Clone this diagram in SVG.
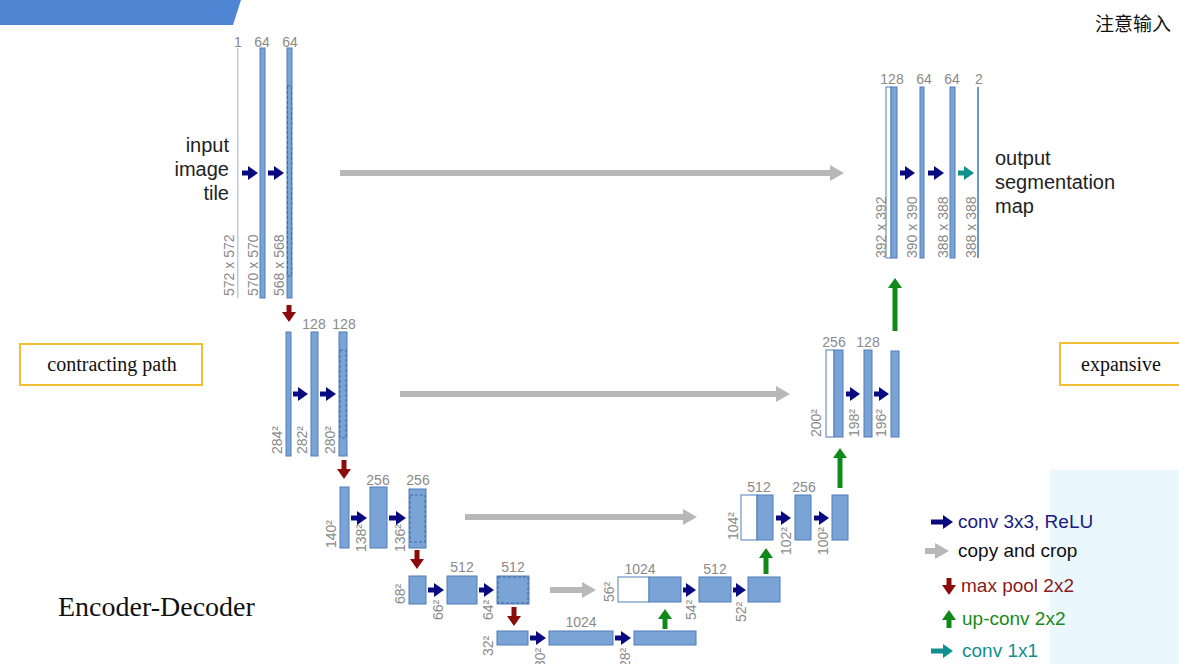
<svg xmlns="http://www.w3.org/2000/svg" width="1179" height="664" viewBox="0 0 1179 664">
<defs>
<style>
.b{fill:#7aa3d6;stroke:#4f7cb8;stroke-width:1}
.w{fill:#fff;stroke:#4f7cb8;stroke-width:1}
.d{fill:none;stroke:#3d68a8;stroke-width:1;stroke-dasharray:3,2}
.t{font-family:"Liberation Sans",Arial,sans-serif;font-size:14px;fill:#8a8a8a}
.tm{text-anchor:middle}
.big{font-family:"Liberation Sans",Arial,sans-serif;font-size:20px;fill:#222}
.ser{font-family:"Liberation Serif","Times New Roman",serif;fill:#111}
.cv{stroke:#0a0a80;stroke-width:5;marker-end:url(#mc)}
.cp{stroke:#b8b8b8;stroke-width:6;marker-end:url(#mg)}
.mp{stroke:#8b0a0a;stroke-width:5;marker-end:url(#mr)}
.up{stroke:#0f8a1a;stroke-width:5;marker-end:url(#mu)}
.c1{stroke:#119090;stroke-width:5;marker-end:url(#mt)}
.lg{font-family:"Liberation Sans",Arial,sans-serif;font-size:19px}
</style>
<marker id="mc" markerUnits="userSpaceOnUse" markerWidth="12" markerHeight="14" refX="2" refY="7" orient="auto"><path d="M0,0L10,7L0,14Z" fill="#0a0a80"/></marker>
<marker id="mg" markerUnits="userSpaceOnUse" markerWidth="16" markerHeight="16" refX="2" refY="8" orient="auto"><path d="M0,0L14,8L0,16Z" fill="#b8b8b8"/></marker>
<marker id="mr" markerUnits="userSpaceOnUse" markerWidth="12" markerHeight="14" refX="2" refY="7" orient="auto"><path d="M0,0L10,7L0,14Z" fill="#8b0a0a"/></marker>
<marker id="mu" markerUnits="userSpaceOnUse" markerWidth="12" markerHeight="14" refX="2" refY="7" orient="auto"><path d="M0,0L10,7L0,14Z" fill="#0f8a1a"/></marker>
<marker id="mt" markerUnits="userSpaceOnUse" markerWidth="12" markerHeight="14" refX="2" refY="7" orient="auto"><path d="M0,0L10,7L0,14Z" fill="#119090"/></marker>
</defs>
<rect width="1179" height="664" fill="#fff"/>
<path d="M1050,470 L1179,470 L1179,664 L1050,664 Z" fill="#eaf7fc"/>
<path d="M0,0 L241,0 L233,25 L0,25 Z" fill="#4f86d4"/>
<text x="1095" y="31" font-family="'Noto Sans CJK SC',sans-serif" font-size="19" fill="#111">注意输入</text>

<g id="level1">
<rect x="237" y="48" width="1.5" height="250" fill="#b9cbe6"/>
<rect class="b" x="260" y="48" width="5" height="250"/>
<rect class="b" x="287" y="48" width="5" height="250"/>
<rect class="d" x="287.5" y="86" width="4" height="190"/>
<text class="t tm" x="238" y="47">1</text><text class="t tm" x="262" y="47">64</text><text class="t tm" x="290" y="47">64</text>
<text class="t" transform="translate(234,296) rotate(-90)">572 x 572</text>
<text class="t" transform="translate(258,296) rotate(-90)">570 x 570</text>
<text class="t" transform="translate(284,296) rotate(-90)">568 x 568</text>
<text class="big" x="229" y="152" text-anchor="end">input</text>
<text class="big" x="229" y="176" text-anchor="end">image</text>
<text class="big" x="229" y="200" text-anchor="end">tile</text>
</g>
<g id="level2">
<rect class="b" x="286" y="332" width="5" height="124"/>
<rect class="b" x="311" y="332" width="7" height="124"/>
<rect class="b" x="339" y="332" width="8" height="124"/>
<rect class="d" x="340" y="350" width="6" height="88"/>
<text class="t tm" x="314" y="329">128</text><text class="t tm" x="344" y="329">128</text>
<text class="t" transform="translate(282,454) rotate(-90)">284²</text>
<text class="t" transform="translate(307,454) rotate(-90)">282²</text>
<text class="t" transform="translate(335,454) rotate(-90)">280²</text>
</g>
<g id="level3">
<rect class="b" x="340" y="487" width="9" height="61"/>
<rect class="b" x="370" y="487" width="17" height="61"/>
<rect class="b" x="409" y="489" width="17" height="59"/>
<rect class="d" x="410" y="495" width="15" height="47"/>
<text class="t tm" x="378" y="485">256</text><text class="t tm" x="418" y="485">256</text>
<text class="t" transform="translate(336,548) rotate(-90)">140²</text>
<text class="t" transform="translate(366,552) rotate(-90)">138²</text>
<text class="t" transform="translate(405,552) rotate(-90)">136²</text>
</g>
<g id="level4">
<rect class="b" x="409" y="576" width="17" height="28"/>
<rect class="b" x="447" y="576" width="30" height="28"/>
<rect class="b" x="497" y="576" width="32" height="28"/>
<rect class="d" x="498" y="577" width="30" height="26"/>
<text class="t tm" x="462" y="572">512</text><text class="t tm" x="513" y="572">512</text>
<text class="t" transform="translate(405,604) rotate(-90)">68²</text>
<text class="t" transform="translate(443,620) rotate(-90)">66²</text>
<text class="t" transform="translate(493,620) rotate(-90)">64²</text>
</g>
<g id="level5">
<rect class="b" x="497" y="631" width="31" height="14"/>
<rect class="b" x="549" y="631" width="64" height="14"/>
<rect class="b" x="634" y="631" width="62" height="14"/>
<text class="t tm" x="581" y="627">1024</text>
<text class="t" transform="translate(493,656) rotate(-90)">32²</text>
<text class="t" transform="translate(545,668) rotate(-90)">30²</text>
<text class="t" transform="translate(630,668) rotate(-90)">28²</text>
</g>
<g id="dec4">
<rect class="w" x="618" y="577" width="31" height="25"/>
<rect class="b" x="649" y="577" width="32" height="25"/>
<rect class="b" x="699" y="577" width="32" height="25"/>
<rect class="b" x="748" y="577" width="32" height="25"/>
<text class="t tm" x="640" y="574">1024</text><text class="t tm" x="715" y="574">512</text>
<text class="t" transform="translate(614,602) rotate(-90)">56²</text>
<text class="t" transform="translate(696,620) rotate(-90)">54²</text>
<text class="t" transform="translate(746,622) rotate(-90)">52²</text>
</g>
<g id="dec3">
<rect class="w" x="741" y="495" width="16" height="45"/>
<rect class="b" x="757" y="495" width="16" height="45"/>
<rect class="b" x="795" y="495" width="16" height="45"/>
<rect class="b" x="832" y="495" width="16" height="45"/>
<text class="t tm" x="759" y="492">512</text><text class="t tm" x="804" y="492">256</text>
<text class="t" transform="translate(738,540) rotate(-90)">104²</text>
<text class="t" transform="translate(791,555) rotate(-90)">102²</text>
<text class="t" transform="translate(828,555) rotate(-90)">100²</text>
</g>
<g id="dec2">
<rect class="w" x="826" y="350" width="8" height="87"/>
<rect class="b" x="834" y="350" width="9" height="87"/>
<rect class="b" x="864" y="350" width="8" height="87"/>
<rect class="b" x="891" y="351" width="8" height="86"/>
<text class="t tm" x="834" y="347">256</text><text class="t tm" x="868" y="347">128</text>
<text class="t" transform="translate(821,437) rotate(-90)">200²</text>
<text class="t" transform="translate(859,437) rotate(-90)">198²</text>
<text class="t" transform="translate(886,437) rotate(-90)">196²</text>
</g>
<g id="dec1">
<rect class="w" x="886" y="87" width="5" height="171"/>
<rect class="b" x="891" y="87" width="6" height="171"/>
<rect class="b" x="920" y="87" width="4" height="171"/>
<rect class="b" x="950" y="87" width="5" height="171"/>
<rect x="977" y="87" width="2" height="171" fill="#6f96cc"/>
<text class="t tm" x="892" y="84">128</text><text class="t tm" x="924" y="84">64</text><text class="t tm" x="952" y="84">64</text><text class="t tm" x="979" y="84">2</text>
<text class="t" transform="translate(886,258) rotate(-90)">392 x 392</text>
<text class="t" transform="translate(917,258) rotate(-90)">390 x 390</text>
<text class="t" transform="translate(948,258) rotate(-90)">388 x 388</text>
<text class="t" transform="translate(976,258) rotate(-90)">388 x 388</text>
<text class="big" x="995" y="165">output</text>
<text class="big" x="995" y="189">segmentation</text>
<text class="big" x="995" y="213">map</text>
</g>
<g id="connectors">
<line class="cv" x1="242" y1="173" x2="250" y2="173"/>
<line class="cv" x1="268" y1="173" x2="276" y2="173"/>
<line class="cp" x1="340" y1="173" x2="832" y2="173"/>
<line class="mp" x1="289" y1="305" x2="289" y2="314"/>
<line class="cv" x1="293" y1="394" x2="300" y2="394"/>
<line class="cv" x1="320" y1="394" x2="328" y2="394"/>
<line class="cp" x1="400" y1="394" x2="778" y2="394"/>
<line class="mp" x1="344" y1="460" x2="344" y2="471"/>
<line class="cv" x1="351" y1="518" x2="359" y2="518"/>
<line class="cv" x1="389" y1="518" x2="398" y2="518"/>
<line class="cp" x1="465" y1="517" x2="685" y2="517"/>
<line class="mp" x1="417" y1="550" x2="417" y2="561"/>
<line class="cv" x1="428" y1="590" x2="436" y2="590"/>
<line class="cv" x1="479" y1="590" x2="486" y2="590"/>
<line class="cp" x1="550" y1="590" x2="584" y2="590"/>
<line class="mp" x1="514" y1="607" x2="514" y2="618"/>
<line class="cv" x1="530" y1="638" x2="538" y2="638"/>
<line class="cv" x1="615" y1="638" x2="623" y2="638"/>
<line class="up" x1="665" y1="629" x2="665" y2="617"/>
<line class="cv" x1="683" y1="590" x2="688" y2="590"/>
<line class="cv" x1="733" y1="590" x2="738" y2="590"/>
<line class="up" x1="766" y1="574" x2="766" y2="556"/>
<line class="cv" x1="776" y1="518" x2="783" y2="518"/>
<line class="cv" x1="814" y1="518" x2="821" y2="518"/>
<line class="up" x1="840" y1="488" x2="840" y2="456"/>
<line class="cv" x1="846" y1="394" x2="852" y2="394"/>
<line class="cv" x1="874" y1="394" x2="881" y2="394"/>
<line class="up" x1="895" y1="331" x2="895" y2="286"/>
<line class="cv" x1="900" y1="173" x2="907" y2="173"/>
<line class="cv" x1="928" y1="173" x2="936" y2="173"/>
<line class="c1" x1="958" y1="173" x2="966" y2="173"/>
</g>
<g id="legend">
<line class="cv" x1="931" y1="522" x2="945" y2="522"/>
<text class="lg" x="958" y="528" fill="#1a1a80">conv 3x3, ReLU</text>
<line class="cp" x1="925" y1="551" x2="937" y2="551"/>
<text class="lg" x="958" y="557" fill="#111">copy and crop</text>
<line class="mp" x1="949" y1="578" x2="949" y2="587"/>
<text class="lg" x="961" y="592" fill="#8b1a1a">max pool 2x2</text>
<line class="up" x1="949" y1="628" x2="949" y2="618"/>
<text class="lg" x="962" y="625" fill="#1a8a1a">up-conv 2x2</text>
<line class="c1" x1="931" y1="651" x2="945" y2="651"/>
<text class="lg" x="962" y="657" fill="#119090">conv 1x1</text>
</g>
<g id="contracting">
<rect x="20" y="344" width="182" height="41" fill="#fff" stroke="#f0c030" stroke-width="2"/>
<text class="ser" x="112" y="371" font-size="20" text-anchor="middle">contracting path</text>
</g>
<g id="expansive">
<rect x="1060" y="343" width="125" height="42" fill="#fff" stroke="#f0c030" stroke-width="2"/>
<text class="ser" x="1081" y="371" font-size="20">expansive</text>
</g>
<text class="ser" x="58" y="616" font-size="28">Encoder-Decoder</text>
</svg>
